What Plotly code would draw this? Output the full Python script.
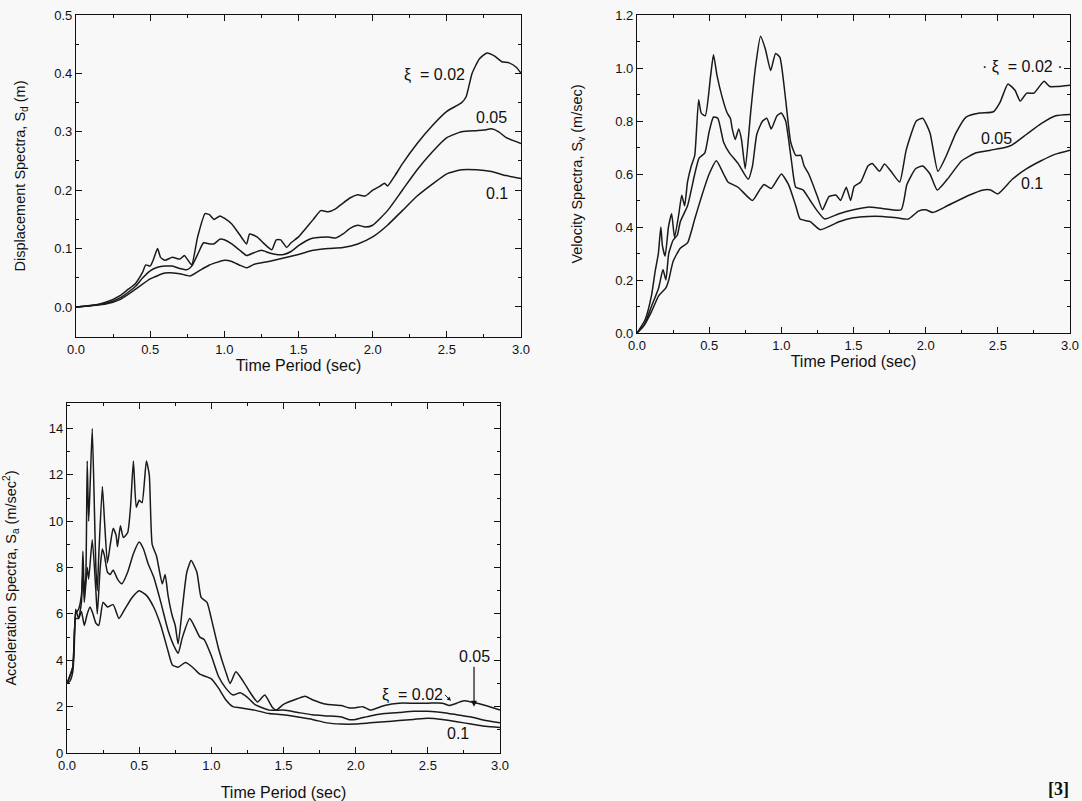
import plotly.graph_objects as go

# ---------------- Displacement spectra (m) ----------------
disp_T_002 = [0.0, 0.1, 0.2, 0.3, 0.35, 0.4, 0.45, 0.47, 0.5, 0.52, 0.55, 0.57, 0.6, 0.65, 0.7, 0.73, 0.75, 0.78,
              0.82, 0.87, 0.9, 0.93, 0.97, 1.0, 1.05, 1.1, 1.15, 1.17, 1.22, 1.27, 1.32, 1.35, 1.38, 1.42, 1.45,
              1.5, 1.55, 1.6, 1.65, 1.7, 1.75, 1.8, 1.85, 1.9, 1.95, 2.0, 2.05, 2.08, 2.1, 2.15, 2.2, 2.3, 2.4,
              2.5, 2.6, 2.63, 2.67, 2.72, 2.77, 2.82, 2.87, 2.92, 2.97, 3.0]
disp_002 = [0.0, 0.002, 0.008, 0.02, 0.03, 0.04, 0.06, 0.072, 0.07, 0.08, 0.1, 0.085, 0.08, 0.085, 0.082, 0.088,
            0.082, 0.072, 0.12, 0.16, 0.158, 0.15, 0.156, 0.152, 0.142, 0.125, 0.108, 0.125, 0.12, 0.108, 0.098,
            0.115, 0.115, 0.102, 0.11, 0.12, 0.135, 0.15, 0.165, 0.163, 0.168, 0.178, 0.187, 0.192, 0.19, 0.2,
            0.207, 0.212, 0.207, 0.225, 0.245, 0.28, 0.31, 0.335, 0.35, 0.36, 0.4, 0.425, 0.435, 0.43, 0.42,
            0.418, 0.41, 0.40]

disp_T_005 = [0.0, 0.2, 0.3, 0.4, 0.45, 0.5, 0.55, 0.6, 0.65, 0.7, 0.75, 0.78, 0.82, 0.86, 0.9, 0.93, 0.97, 1.0,
              1.05, 1.1, 1.15, 1.2, 1.25, 1.3, 1.35, 1.4, 1.45, 1.5, 1.55, 1.6, 1.7, 1.75, 1.8, 1.85, 1.9, 1.95,
              2.0, 2.1, 2.2, 2.3, 2.4, 2.5, 2.6, 2.7, 2.75, 2.8, 2.85, 2.9, 3.0]
disp_005 = [0.0, 0.006, 0.016, 0.035, 0.05, 0.062, 0.068, 0.07, 0.07, 0.066, 0.064, 0.07, 0.09, 0.11, 0.108, 0.108,
            0.116, 0.115, 0.108, 0.098, 0.088, 0.093, 0.097, 0.093, 0.09, 0.09, 0.095, 0.105, 0.113, 0.118, 0.12,
            0.118, 0.125, 0.135, 0.14, 0.137, 0.14, 0.165, 0.2, 0.235, 0.265, 0.29, 0.3, 0.302, 0.303, 0.305,
            0.3, 0.29, 0.28]

disp_T_010 = [0.0, 0.2, 0.3, 0.4, 0.5, 0.6, 0.7, 0.77, 0.85, 0.9, 1.0, 1.05, 1.1, 1.15, 1.2, 1.3, 1.4, 1.5, 1.6,
              1.7, 1.8, 1.9, 2.0, 2.1, 2.2, 2.3, 2.4, 2.5, 2.6, 2.7, 2.8, 2.9, 3.0]
disp_010 = [0.0, 0.005, 0.013, 0.03, 0.048, 0.058, 0.057, 0.053, 0.065, 0.072, 0.08, 0.078, 0.072, 0.067, 0.073,
            0.078, 0.084, 0.09, 0.097, 0.1, 0.102, 0.108, 0.12, 0.14, 0.165, 0.19, 0.21, 0.228, 0.235, 0.235,
            0.232, 0.225, 0.22]

# ---------------- Velocity spectra (m/sec) ----------------
vel_T_002 = [0.0, 0.056, 0.10, 0.125, 0.148, 0.165, 0.176, 0.195, 0.218, 0.24, 0.26, 0.29, 0.31, 0.33, 0.35,
             0.376, 0.40, 0.427, 0.445, 0.473, 0.51, 0.53, 0.555, 0.59, 0.625, 0.647, 0.66, 0.68, 0.705, 0.724,
             0.75, 0.787, 0.82, 0.856, 0.89, 0.926, 0.96, 0.99, 1.03, 1.065, 1.10, 1.135, 1.158, 1.19, 1.25,
             1.285, 1.33, 1.38, 1.41, 1.45, 1.48, 1.505, 1.55, 1.60, 1.63, 1.68, 1.715, 1.76, 1.82, 1.865,
             1.935, 1.98, 2.03, 2.085, 2.14, 2.21, 2.28, 2.375, 2.47, 2.515, 2.57, 2.62, 2.655, 2.70, 2.75,
             2.82, 2.86, 2.91, 3.0]
vel_002 = [0.0, 0.05, 0.14, 0.23, 0.30, 0.40, 0.33, 0.29, 0.40, 0.45, 0.36, 0.45, 0.52, 0.48, 0.57, 0.63, 0.67,
           0.88, 0.83, 0.82, 0.97, 1.05, 0.97, 0.89, 0.83, 0.81, 0.77, 0.73, 0.77, 0.73, 0.62, 0.83, 1.0, 1.12,
           1.07, 0.99, 1.055, 1.04, 0.88, 0.72, 0.67, 0.67, 0.63, 0.60, 0.515, 0.465, 0.515, 0.52, 0.50, 0.55,
           0.50, 0.553, 0.57, 0.63, 0.64, 0.61, 0.638, 0.61, 0.57, 0.69, 0.80, 0.81, 0.755, 0.61, 0.665, 0.755,
           0.815, 0.83, 0.835, 0.87, 0.94, 0.915, 0.875, 0.905, 0.905, 0.95, 0.93, 0.93, 0.935]

vel_T_005 = [0.0, 0.05, 0.1, 0.15, 0.18, 0.2, 0.22, 0.25, 0.28, 0.3, 0.35, 0.4, 0.43, 0.47, 0.5, 0.53, 0.56, 0.6,
             0.64, 0.7, 0.77, 0.8, 0.83, 0.87, 0.9, 0.93, 0.97, 1.0, 1.03, 1.07, 1.1, 1.15, 1.2, 1.25, 1.3, 1.4,
             1.5, 1.6, 1.7, 1.83, 1.87, 1.93, 1.98, 2.03, 2.08, 2.15, 2.25, 2.35, 2.45, 2.55, 2.6, 2.7, 2.8, 2.9,
             3.0]
vel_005 = [0.0, 0.03, 0.1, 0.17, 0.24, 0.2, 0.3, 0.35, 0.37, 0.42, 0.48, 0.6, 0.66, 0.68, 0.76, 0.815, 0.81, 0.72,
           0.68, 0.64, 0.58, 0.63, 0.75, 0.8, 0.81, 0.77, 0.82, 0.83, 0.8, 0.65, 0.55, 0.54, 0.5, 0.46, 0.43,
           0.45, 0.465, 0.475, 0.47, 0.465, 0.56, 0.62, 0.63, 0.6, 0.54, 0.58, 0.65, 0.68, 0.69, 0.7, 0.71, 0.75,
           0.79, 0.82, 0.825]

vel_T_010 = [0.0, 0.05, 0.1, 0.15, 0.2, 0.22, 0.25, 0.3, 0.35, 0.4, 0.45, 0.5, 0.55, 0.6, 0.63, 0.7, 0.8, 0.85,
             0.88, 0.93, 1.0, 1.05, 1.1, 1.13, 1.2, 1.27, 1.4, 1.5, 1.6, 1.7, 1.8, 1.88, 1.95, 2.0, 2.05, 2.15,
             2.3, 2.4, 2.45, 2.5, 2.6, 2.7, 2.8, 2.9, 3.0]
vel_010 = [0.0, 0.03, 0.08, 0.14, 0.17, 0.2, 0.27, 0.32, 0.34, 0.43, 0.52, 0.6, 0.65, 0.6, 0.57, 0.55, 0.5, 0.54,
           0.56, 0.545, 0.6, 0.56, 0.48, 0.43, 0.42, 0.39, 0.42, 0.435, 0.44, 0.44, 0.435, 0.43, 0.46, 0.465,
           0.455, 0.48, 0.52, 0.54, 0.54, 0.525, 0.58, 0.62, 0.65, 0.675, 0.69]

# ---------------- Acceleration spectra (m/sec^2) ----------------
acc_T_002 = [0.0, 0.02, 0.04, 0.05, 0.06, 0.08, 0.1, 0.11, 0.12, 0.13, 0.14, 0.15, 0.16, 0.175, 0.19, 0.2, 0.21,
             0.22, 0.245, 0.26, 0.28, 0.3, 0.32, 0.34, 0.35, 0.37, 0.39, 0.42, 0.44, 0.46, 0.48, 0.5, 0.52, 0.55,
             0.57, 0.59, 0.62, 0.66, 0.68, 0.7, 0.73, 0.75, 0.77, 0.8, 0.83, 0.86, 0.9, 0.93, 0.97, 1.0, 1.05,
             1.1, 1.13, 1.17, 1.22, 1.27, 1.32, 1.37, 1.42, 1.45, 1.5, 1.6, 1.65, 1.7, 1.8, 1.9, 1.95, 2.0, 2.05,
             2.1, 2.2, 2.3, 2.4, 2.5, 2.6, 2.65, 2.7, 2.75, 2.8, 2.9, 3.0]
acc_002 = [3.0, 3.1, 3.5, 4.5, 6.2, 5.8, 6.5, 8.7, 7.0, 7.5, 12.6, 10.0, 11.5, 14.0, 10.5, 8.0, 7.0, 8.5, 11.5,
           10.0, 8.2, 9.0, 9.7, 9.4, 8.9, 9.8, 9.3, 9.5, 10.6, 12.6, 10.6, 10.9, 10.8, 12.6, 12.0, 9.0, 8.5, 7.3,
           7.7, 6.8, 5.9, 5.5, 4.7, 6.3, 7.8, 8.3, 7.8, 6.7, 6.5, 5.8, 4.5, 3.5, 3.0, 3.5, 3.1, 2.6, 2.2, 2.5,
           2.0, 1.85, 2.1, 2.35, 2.45, 2.3, 2.1, 2.05, 1.95, 1.95, 2.0, 1.85, 2.05, 2.15, 2.15, 2.15, 2.15, 2.05,
           2.15, 2.25, 2.2, 2.05, 1.85]

acc_T_005 = [0.0, 0.04, 0.06, 0.08, 0.1, 0.11, 0.12, 0.14, 0.15, 0.175, 0.2, 0.21, 0.23, 0.245, 0.26, 0.28, 0.3,
             0.32, 0.35, 0.38, 0.42, 0.46, 0.5, 0.53, 0.56, 0.6, 0.65, 0.7, 0.75, 0.77, 0.8, 0.85, 0.88, 0.92,
             0.95, 1.0, 1.05, 1.1, 1.15, 1.2, 1.25, 1.3, 1.4, 1.5, 1.6, 1.7, 1.8, 1.9, 1.95, 2.0, 2.1, 2.2, 2.3,
             2.4, 2.5, 2.6, 2.7, 2.8, 2.9, 3.0]
acc_005 = [3.0, 3.7, 6.0, 6.2, 6.8, 7.8, 6.5, 8.0, 7.5, 9.2, 7.0, 6.0, 8.0, 8.8, 8.5, 7.8, 7.7, 7.9, 7.5, 7.3,
           7.8, 8.6, 9.1, 8.8, 8.2, 7.6, 6.5, 5.3, 4.5, 4.3, 5.0, 5.8, 5.5, 5.0, 4.9, 4.2, 3.3, 2.8, 2.5, 2.6,
           2.4, 2.1, 1.85, 1.85, 1.75, 1.65, 1.6, 1.55, 1.45, 1.45, 1.6, 1.7, 1.75, 1.8, 1.8, 1.75, 1.65, 1.55,
           1.4, 1.3]

acc_T_010 = [0.0, 0.04, 0.06, 0.08, 0.1, 0.12, 0.14, 0.16, 0.18, 0.2, 0.22, 0.25, 0.28, 0.32, 0.36, 0.4, 0.45,
             0.5, 0.55, 0.6, 0.65, 0.7, 0.73, 0.77, 0.82, 0.87, 0.92, 1.0, 1.05, 1.1, 1.15, 1.2, 1.3, 1.4, 1.5,
             1.6, 1.7, 1.8, 1.9, 2.0, 2.1, 2.2, 2.3, 2.4, 2.5, 2.6, 2.7, 2.8, 2.9, 3.0]
acc_010 = [3.0, 3.7, 5.8, 5.8, 6.1, 5.5, 6.0, 6.3, 6.0, 5.6, 5.5, 6.5, 6.3, 6.4, 5.8, 6.2, 6.7, 7.0, 6.8, 6.3,
           5.5, 4.4, 3.8, 3.7, 3.9, 3.7, 3.4, 3.2, 2.8, 2.3, 2.0, 1.95, 1.85, 1.7, 1.65, 1.55, 1.45, 1.3, 1.25,
           1.25, 1.3, 1.35, 1.4, 1.45, 1.5, 1.45, 1.35, 1.25, 1.15, 1.1]

x_title = "Time Period (sec)"
disp_title = "Displacement Spectra, S<sub>d</sub> (m)"
vel_title = "Velocity Spectra, S<sub>v</sub> (m/sec)"
acc_title = "Acceleration Spectra, S<sub>a</sub> (m/sec<sup>2</sup>)"

W, H = 1082, 801
LINE = dict(color="#1a1a1a", width=1.5, shape="spline", smoothing=0.5)
FONT = "Liberation Sans, Arial, sans-serif"
BG = "#f8f8f8"


def dx(a, b):
    return [a / W, b / W]


def dy(top, bottom):
    return [1 - bottom / H, 1 - top / H]


fig = go.Figure()

series = [
    ("x", "y", disp_T_002, disp_002), ("x", "y", disp_T_005, disp_005), ("x", "y", disp_T_010, disp_010),
    ("x2", "y2", vel_T_002, vel_002), ("x2", "y2", vel_T_005, vel_005), ("x2", "y2", vel_T_010, vel_010),
    ("x3", "y3", acc_T_002, acc_002), ("x3", "y3", acc_T_005, acc_005), ("x3", "y3", acc_T_010, acc_010),
]
for xa, ya, xs, ys in series:
    fig.add_trace(go.Scatter(x=xs, y=ys, xaxis=xa, yaxis=ya, mode="lines", line=LINE,
                             showlegend=False, hoverinfo="skip"))

common = dict(showline=True, linecolor="#111", linewidth=1.3, mirror="ticks", ticks="inside",
              ticklen=6, tickwidth=1.2, tickcolor="#111", showgrid=False, zeroline=False,
              automargin=False, ticklabeloverflow="allow",
              tickfont=dict(family=FONT, size=13, color="#111"),
              minor=dict(ticks="inside", ticklen=3, tickwidth=1, tickcolor="#111"))

xcommon = dict(common, range=[0, 3.0], dtick=0.5, tick0=0, tickformat=".1f",
               minor=dict(common["minor"], dtick=0.25))


def xt(standoff):
    return dict(text=x_title, font=dict(family=FONT, size=16, color="#111"), standoff=standoff)


def yt(text, standoff):
    return dict(text=text, font=dict(family=FONT, size=14.5, color="#111"), standoff=standoff)


fig.update_layout(
    width=W, height=H,
    margin=dict(l=0, r=0, t=0, b=0),
    paper_bgcolor=BG, plot_bgcolor=BG,
    font=dict(family=FONT, color="#111"),
    xaxis=dict(xcommon, domain=dx(76, 521), anchor="y", title=xt(2)),
    yaxis=dict(common, domain=dy(15, 337), anchor="x", range=[-0.0514, 0.5], dtick=0.1, tick0=0,
               tickformat=".1f", minor=dict(common["minor"], dtick=0.05), title=yt(disp_title, 25)),
    xaxis2=dict(xcommon, domain=dx(637, 1070), anchor="y2", title=xt(2)),
    yaxis2=dict(common, domain=dy(15, 333), anchor="x2", range=[0, 1.2], dtick=0.2, tick0=0,
                tickformat=".1f", minor=dict(common["minor"], dtick=0.1), title=yt(vel_title, 29)),
    xaxis3=dict(xcommon, domain=dx(67, 500), anchor="y3", title=xt(16)),
    yaxis3=dict(common, domain=dy(403, 753), anchor="x3", range=[0, 15.1], dtick=2, tick0=0,
                tickformat="d", minor=dict(common["minor"], dtick=1), title=yt(acc_title, 28)),
)

ann_font = dict(family=FONT, size=16, color="#111")
annotations = [
    dict(x=2.42, y=0.397, xref="x", yref="y", text="ξ  = 0.02", showarrow=False, font=ann_font),
    dict(x=2.80, y=0.325, xref="x", yref="y", text="0.05", showarrow=False, font=ann_font),
    dict(x=2.84, y=0.195, xref="x", yref="y", text="0.1", showarrow=False, font=ann_font),
    dict(x=2.67, y=1.004, xref="x2", yref="y2", text="· ξ  = 0.02 ·", showarrow=False, font=ann_font),
    dict(x=2.49, y=0.735, xref="x2", yref="y2", text="0.05", showarrow=False, font=ann_font),
    dict(x=2.74, y=0.566, xref="x2", yref="y2", text="0.1", showarrow=False, font=ann_font),
    dict(x=2.82, y=2.0, xref="x3", yref="y3", text="0.05", showarrow=True, ax=0, ay=-40,
         arrowhead=2, arrowsize=1, arrowwidth=1.2, arrowcolor="#111", font=ann_font, yanchor="bottom"),
    dict(x=2.66, y=2.25, xref="x3", yref="y3", text="ξ  = 0.02", showarrow=True, ax=-6, ay=-6,
         arrowhead=2, arrowsize=0.8, arrowwidth=1, arrowcolor="#111", font=ann_font,
         xanchor="right", yanchor="middle"),
    dict(x=2.71, y=0.86, xref="x3", yref="y3", text="0.1", showarrow=False, font=ann_font),
    dict(x=1058 / W, y=1 - 789 / H, xref="paper", yref="paper", text="<b>[3]</b>",
         xanchor="center", yanchor="middle", showarrow=False,
         font=dict(family="Liberation Serif, Times New Roman, serif", size=18, color="#111")),
]
fig.update_layout(annotations=annotations)

# remove the page's default body margin so the figure fills the window exactly
fig.write_html("out.html", config={"displayModeBar": False},
               post_script="document.body.style.margin='0';document.body.style.overflow='hidden';")
